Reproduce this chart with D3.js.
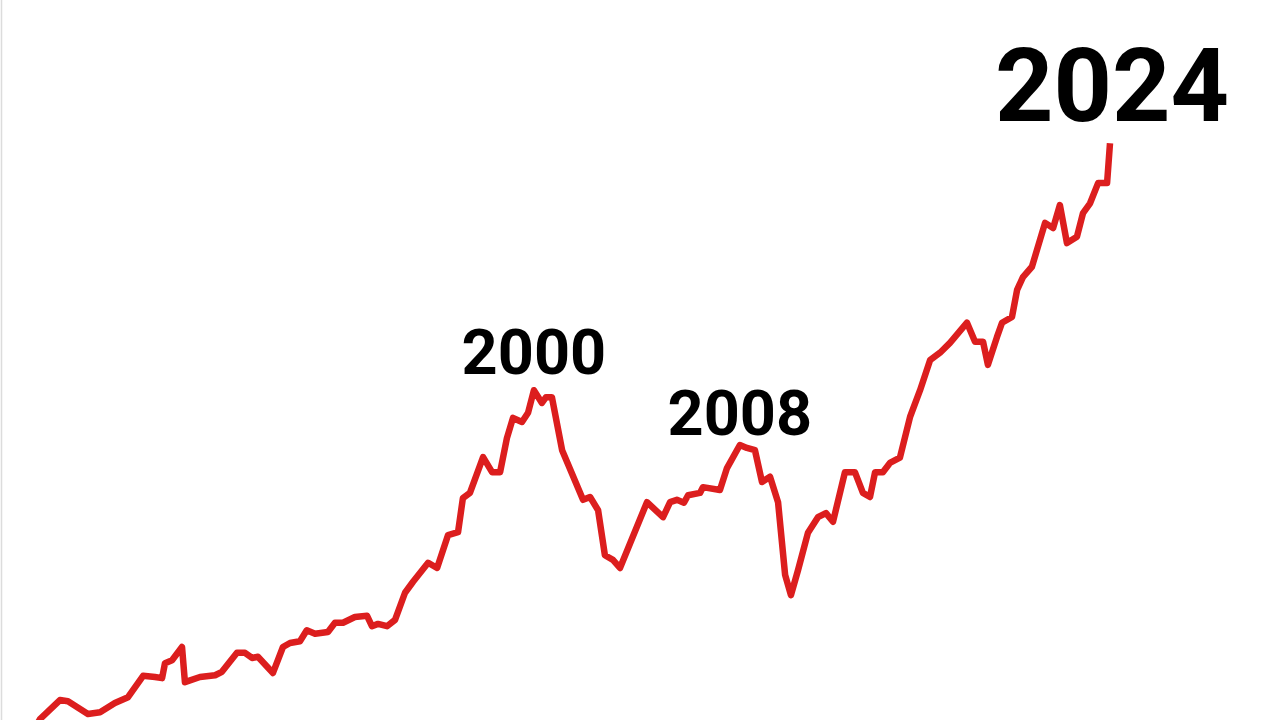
<!DOCTYPE html>
<html>
<head>
<meta charset="utf-8">
<script src="https://cdn.jsdelivr.net/npm/d3@7"></script>
<style>
  html, body { margin: 0; padding: 0; background: #fff; }
  #chart { width: 1280px; height: 720px; overflow: hidden; }
  .label { font-family: Roboto, "Liberation Sans", sans-serif; font-weight: 700; fill: #000; }
</style>
</head>
<body>
<div id="chart"></div>
<script>
// decimal years of each traced point
const years = [
  1979.85, 1980.00, 1980.82, 1981.15, 1981.97, 1982.47, 1983.08, 1983.62, 1984.24, 1984.73,
  1985.02, 1985.14, 1985.43, 1985.84, 1985.96, 1986.58, 1987.20, 1987.48, 1988.10, 1988.43,
  1988.72, 1988.96, 1989.58, 1989.99, 1990.28, 1990.69, 1990.97, 1991.31, 1991.84, 1992.13,
  1992.46, 1992.95, 1993.45, 1993.65, 1993.90, 1994.27, 1994.60, 1995.01, 1995.34, 1995.96,
  1996.33, 1996.78, 1997.19, 1997.39, 1997.68, 1998.22, 1998.59, 1998.92, 1999.20, 1999.45,
  1999.82, 2000.07, 2000.31, 2000.64, 2000.81, 2001.05, 2001.47, 2001.67, 2002.33, 2002.62,
  2002.95, 2003.23, 2003.56, 2003.85, 2004.96, 2005.62, 2005.91, 2006.19, 2006.48, 2006.65,
  2007.14, 2007.26, 2007.96, 2008.25, 2008.78, 2009.07, 2009.40, 2009.69, 2010.02, 2010.35,
  2010.64, 2010.88, 2011.17, 2011.58, 2011.99, 2012.32, 2012.61, 2013.10, 2013.51, 2013.84,
  2014.13, 2014.34, 2014.66, 2014.95, 2015.36, 2015.78, 2016.19, 2016.60, 2017.01, 2017.42,
  2018.12, 2018.45, 2018.78, 2018.98, 2019.35, 2019.56, 2019.97, 2020.18, 2020.42, 2020.79,
  2021.33, 2021.66, 2021.94, 2022.23, 2022.64, 2022.89, 2023.18, 2023.51, 2023.88, 2024.00
];

// index level (0-100 scale)
const values = [
  -0.6, 0.5, 3.8, 3.6, 1.4, 1.7, 3.3, 4.3, 8.0, 7.8,
  7.6, 10.2, 10.7, 13.0, 6.9, 7.8, 8.1, 8.7, 12.0, 12.0,
  11.1, 11.3, 8.5, 13.0, 13.7, 14.0, 15.9, 15.3, 15.6, 17.2,
  17.2, 18.2, 18.4, 16.6, 17.0, 16.6, 17.7, 22.4, 24.3, 27.6,
  26.7, 32.4, 32.9, 38.8, 39.7, 45.9, 43.3, 43.3, 49.2, 52.7,
  52.0, 53.6, 57.5, 55.3, 56.3, 56.3, 47.1, 45.1, 38.5, 39.0,
  36.7, 28.9, 28.1, 26.7, 38.1, 35.5, 38.1, 38.5, 38.0, 39.3,
  39.7, 40.7, 40.2, 44.0, 48.0, 47.5, 47.1, 41.6, 42.5, 38.1,
  25.5, 22.0, 26.3, 32.8, 35.5, 36.2, 34.7, 43.3, 43.3, 39.7,
  39.0, 43.3, 43.3, 44.9, 45.8, 52.9, 57.5, 62.7, 64.0, 65.7,
  69.2, 65.9, 65.9, 61.9, 66.7, 69.2, 70.2, 74.9, 77.1, 78.9,
  86.5, 85.6, 89.6, 83.0, 84.1, 88.2, 89.9, 93.4, 93.4, 100.3
];

// annotations
const labelText = ["2000", "2008", "2024"];
const labelYear = [2000.31, 2008.78, 2024.00];
const labelValue = [57.5, 48.0, 100.3];

const width = 1280;
const height = 720;

const svg = d3.select("#chart")
  .append("svg")
  .attr("width", width)
  .attr("height", height);

// faint frame edge on the left
svg.append("line")
  .attr("x1", 1.5).attr("x2", 1.5)
  .attr("y1", 0).attr("y2", height)
  .attr("stroke", "#dcdcdc")
  .attr("stroke-width", 1.5);

const x = d3.scaleLinear().domain([1980, 2024]).range([40, 1110]);
const y = d3.scaleLinear().domain([0, 100]).range([722, 145]);

const points = years.map((yr, i) => ({ year: yr, value: values[i] }));

const line = d3.line()
  .x(d => x(d.year))
  .y(d => y(d.value));

svg.append("path")
  .datum(points)
  .attr("d", line)
  .attr("fill", "none")
  .attr("stroke", "#dc1e1e")
  .attr("stroke-width", 6.5)
  .attr("stroke-linejoin", "round")
  .attr("stroke-linecap", "butt");

// labels sit above their points
const labels = labelText.map((t, i) => ({ text: t, year: labelYear[i], value: labelValue[i] }));

svg.selectAll("text.label")
  .data(labels)
  .join("text")
  .attr("class", "label")
  .attr("text-anchor", "middle")
  .attr("x", d => x(d.year) + (d.text === "2024" ? 2 : 0))
  .attr("y", d => y(d.value) - (d.text === "2024" ? 22 : d.text === "2000" ? 16 : 10))
  .style("font-size", d => d.text === "2024" ? "102px" : "63px")
  .text(d => d.text);
</script>
</body>
</html>
